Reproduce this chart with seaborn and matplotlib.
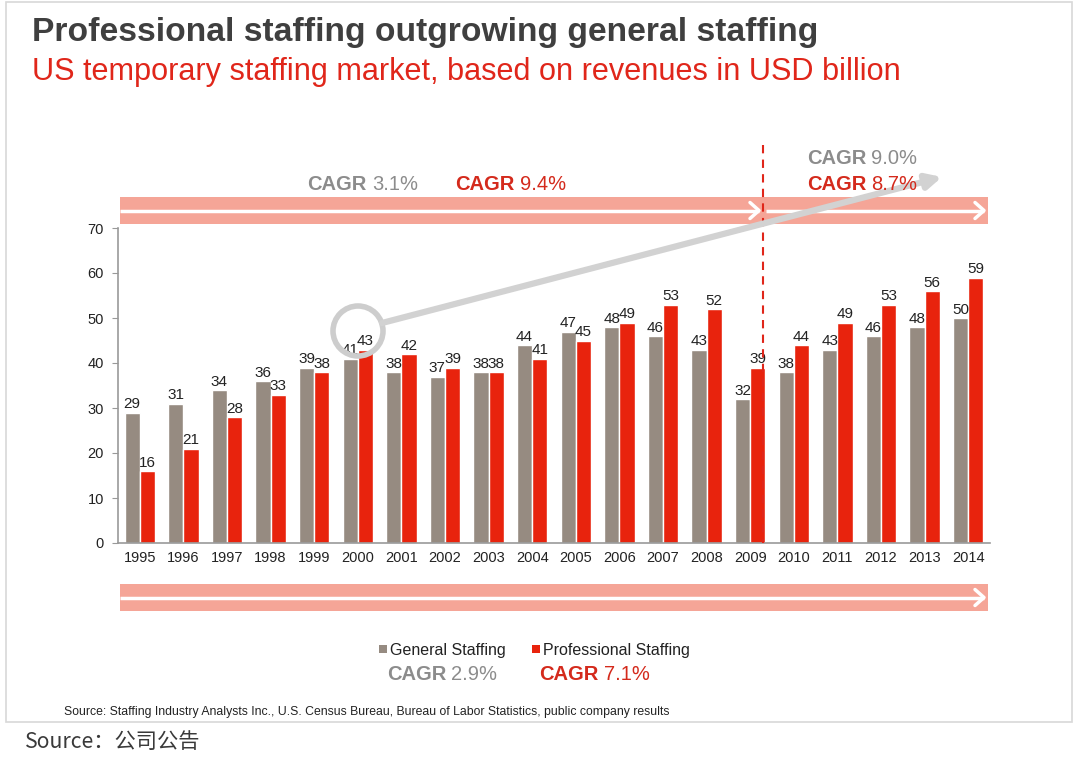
import pandas as pd
import matplotlib.pyplot as plt
import seaborn as sns
from matplotlib.patches import Rectangle, Circle, FancyArrowPatch

years = [str(y) for y in range(1995, 2015)]
general = [29, 31, 34, 36, 39, 41, 38, 37, 38, 44, 47, 48, 46, 43, 32, 38, 43, 46, 48, 50]
professional = [16, 21, 28, 33, 38, 43, 42, 39, 38, 41, 45, 49, 53, 52, 39, 44, 49, 53, 56, 59]
series = ['General Staffing', 'Professional Staffing']

GRAY = '#968B81'
RED = '#E8230D'
PINK = '#F5A597'

df = pd.DataFrame({
    'Year': years * 2,
    'Revenue': general + professional,
    'Series': [series[0]] * len(years) + [series[1]] * len(years),
})

sns.set_style('white')
plt.rcParams['font.family'] = ['Liberation Sans', 'DejaVu Sans']

fig = plt.figure(figsize=(10.8, 7.57), dpi=100)
ax = fig.add_axes([118 / 1080, 214 / 757, 872 / 1080, 315 / 757])

sns.barplot(data=df, x='Year', y='Revenue', hue='Series', palette=[GRAY, RED],
            width=0.7, saturation=1, legend=False, ax=ax)

for cont in ax.containers:
    ax.bar_label(cont, fmt='%d', fontsize=11, color='#222222', padding=1)

ax.set_xlim(-0.5, len(years) - 0.5)
ax.set_ylim(0, 70)
ax.set_yticks(range(0, 71, 10))
ax.set_xlabel('')
ax.set_ylabel('')
ax.tick_params(axis='both', labelsize=10.5, colors='#222222', length=0, pad=6)
ax.set_xticks([i + 0.5 for i in range(-1, len(years))], minor=True)
ax.tick_params(axis='x', which='minor', length=4, color='#999999', direction='out')
ax.tick_params(axis='y', length=4, color='#999999', direction='out', left=True)
for side in ['top', 'right']:
    ax.spines[side].set_visible(False)
for side in ['left', 'bottom']:
    ax.spines[side].set_color('#999999')
    ax.spines[side].set_linewidth(1.2)

# overlay in pixel coordinates for the slide decorations
ov = fig.add_axes([0, 0, 1, 1], facecolor='none')
ov.set_xlim(0, 1080)
ov.set_ylim(757, 0)
ov.axis('off')

ov.add_patch(Rectangle((6, 2), 1066, 720, fill=False, ec='#D8D8D8', lw=1.2))

ov.text(32, 33, 'Professional staffing outgrowing general staffing', fontsize=24.2,
        fontweight='bold', color='#3F3F3F', va='center', ha='left')
ov.text(32, 72, 'US temporary staffing market, based on revenues in USD billion', fontsize=22.1,
        color='#E0261A', va='center', ha='left')


def band(y0, segs):
    ov.add_patch(Rectangle((120, y0), 868, 27, color=PINK, lw=0, zorder=1))
    yc = y0 + 13.5
    for x0, x1 in segs:
        ov.plot([x0, x1], [yc, yc], color='white', lw=2.5, zorder=2, solid_capstyle='butt')
        ov.plot([x1 - 9, x1, x1 - 9], [yc - 8, yc, yc + 8], color='white', lw=2.5, zorder=2)


band(197, [(120, 759), (766, 984)])
band(584, [(120, 984)])

ov.plot([763, 763], [145, 543], color='#E0261A', lw=1.5, ls=(0, (4, 3)), zorder=3)

ov.add_patch(Circle((358, 331), 25, fill=False, ec='#CDCDCD', lw=4, zorder=4))
ov.add_patch(FancyArrowPatch((382, 323), (942, 177), arrowstyle='-|>', mutation_scale=22,
                             color='#D2D2D2', lw=4.5, zorder=4, shrinkA=0, shrinkB=0))


def cagr(xsplit, y, value, color):
    ov.text(xsplit, y, 'CAGR', fontsize=14.5, fontweight='bold', color=color,
            ha='right', va='center', zorder=5)
    ov.text(xsplit + 5, y, value, fontsize=14.5, color=color, ha='left', va='center', zorder=5)


cagr(367, 185, '3.1%', '#8C8C8C')
cagr(515, 185, '9.4%', '#D42A1C')
cagr(866, 159, '9.0%', '#8C8C8C')
cagr(866, 185, '8.7%', '#D42A1C')
cagr(446, 675, '2.9%', '#8C8C8C')
cagr(599, 675, '7.1%', '#D42A1C')

ov.add_patch(Rectangle((379, 645), 8, 8, color=GRAY, lw=0))
ov.text(390, 650, 'General Staffing', fontsize=11.5, color='#222222', ha='left', va='center')
ov.add_patch(Rectangle((532, 645), 8, 8, color=RED, lw=0))
ov.text(543, 650, 'Professional Staffing', fontsize=11.5, color='#222222', ha='left', va='center')

ov.text(64, 712, 'Source: Staffing Industry Analysts Inc., U.S. Census Bureau, Bureau of Labor Statistics, '
        'public company results', fontsize=8.8, color='#222222', ha='left', va='center')
ov.text(25, 742, 'Source：公司公告', fontsize=15.3, color='#3A3A3A', ha='left', va='center',
        family=['Noto Sans CJK SC', 'DejaVu Sans'])

fig.savefig('out.png', dpi=100, facecolor='white')
